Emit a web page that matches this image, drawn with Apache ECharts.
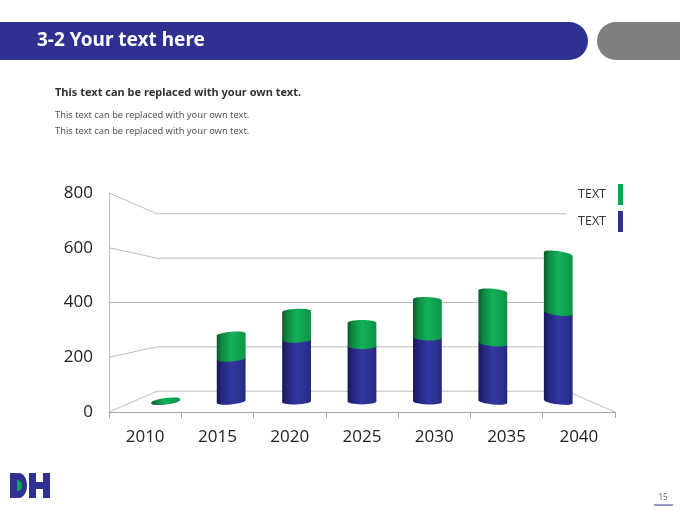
<!DOCTYPE html>
<html>
<head>
<meta charset="utf-8">
<title>3-2 Your text here</title>
<script src="https://cdn.jsdelivr.net/npm/echarts@6.0.0/dist/echarts.min.js"></script>
<style>
    html, body { margin: 0; padding: 0; background: #fff; }
    #slide_chart { width: 680px; height: 510px; }
</style>
</head>
<body>
<div id="slide_chart"></div>
<script>

// Chart data
// ------------------------------

var years = ['2010', '2015', '2020', '2025', '2030', '2035', '2040'];
var lowerValues = [0, 173, 249, 223, 258, 235, 359];
var upperValues = [3, 98, 114, 95, 153, 209, 237];
var yTicks = [0, 200, 400, 600, 800];
var seriesNames = ['Upper', 'Lower'];
var legendLabels = ['TEXT', 'TEXT'];


// Setup module
// ------------------------------

var SlideCylinderChart = function() {

    // 3D look settings
    var eyeValue = 400;      // value where the walls look level
    var backDepth = 0.81;    // scale of the back wall
    var barDepth = 0.905;    // scale of the plane the cylinders stand on
    var barRatio = 0.44;     // cylinder width / category width
    var capRy = 2.8;         // ellipse height of cylinder ends
    var tiltK = 0.0007;      // tilt of ends away from the centre

    var blueStops = [
        { offset: 0, color: '#15165a' },
        { offset: 0.18, color: '#24277c' },
        { offset: 0.5, color: '#3236a0' },
        { offset: 0.8, color: '#2d3192' },
        { offset: 1, color: '#25287f' }
    ];
    var greenStops = [
        { offset: 0, color: '#0a5a2c' },
        { offset: 0.18, color: '#0d8a42' },
        { offset: 0.5, color: '#13b05a' },
        { offset: 0.8, color: '#0fa04e' },
        { offset: 1, color: '#0c9446' }
    ];

    // Vanishing point: middle of the grid, at eye level
    var vanish = function(api) {
        var l = api.coord([0, eyeValue]);
        var r = api.coord([years.length - 1, eyeValue]);
        return [(l[0] + r[0]) / 2, l[1]];
    };

    var project = function(p, vp, s) {
        return [vp[0] + (p[0] - vp[0]) * s, vp[1] + (p[1] - vp[1]) * s];
    };

    // Walls and floor drawn from the value axis ticks
    var renderWall = function(params, api) {
        var v = api.value(1);
        var half = api.size([1, 0])[0] / 2;
        var vp = vanish(api);
        var fl = [api.coord([0, v])[0] - half, api.coord([0, v])[1]];
        var fr = [api.coord([years.length - 1, v])[0] + half, fl[1]];
        var bl = project(fl, vp, backDepth);
        var br = project(fr, vp, backDepth);
        var lineStyle = { stroke: '#bdbdbd', lineWidth: 1, fill: null };
        var children = [{
            type: 'polyline',
            shape: { points: [fl, bl, br] },
            style: lineStyle
        }];
        if (v === yTicks[0]) {
            children.push({
                type: 'line',
                shape: { x1: br[0], y1: br[1], x2: fr[0], y2: fr[1] },
                style: lineStyle
            });
        }
        return { type: 'group', children: children };
    };

    // One piece of a stacked cylinder
    var cylinderPiece = function(api, stops, topCap) {
        var i = api.value(0);
        var vp = vanish(api);
        var b = project(api.coord([i, api.value(1)]), vp, barDepth);
        var t = project(api.coord([i, api.value(2)]), vp, barDepth);
        var w = api.size([1, 0])[0] * barRatio / 2 * barDepth;
        var slope = (b[0] - vp[0]) * tiltK;
        var rot = -Math.atan(slope);
        var fill = new echarts.graphic.LinearGradient(0, 0, 1, 0, stops);

        var children = [
            {
                type: 'ellipse',
                shape: { cx: 0, cy: 0, rx: w, ry: capRy },
                x: b[0], y: b[1], rotation: rot,
                style: { fill: fill }
            },
            {
                type: 'polygon',
                shape: {
                    points: [
                        [b[0] - w, t[1] - slope * w],
                        [b[0] + w, t[1] + slope * w],
                        [b[0] + w, b[1] + slope * w],
                        [b[0] - w, b[1] - slope * w]
                    ]
                },
                style: { fill: fill }
            }
        ];
        if (topCap) {
            children.push({
                type: 'ellipse',
                shape: { cx: 0, cy: 0, rx: w, ry: capRy },
                x: t[0], y: t[1], rotation: rot,
                style: { fill: fill }
            });
        }
        return { type: 'group', children: children };
    };

    var _slideChart = function() {
        if (typeof echarts == 'undefined') {
            console.warn('Warning - echarts.min.js is not loaded.');
            return;
        }

        var chart_element = document.getElementById('slide_chart');
        if (!chart_element) return;

        var chart = echarts.init(chart_element, null, { renderer: 'canvas' });

        var lowerData = years.map(function(y, i) { return [i, 0, lowerValues[i]]; });
        var upperData = years.map(function(y, i) { return [i, lowerValues[i], lowerValues[i] + upperValues[i]]; });
        var wallData = yTicks.map(function(v) { return [0, v]; });

        chart.setOption({
            animation: false,
            textStyle: {
                fontFamily: '"Open Sans", "Noto Sans", sans-serif'
            },

            // Slide decoration
            graphic: [
                {
                    type: 'rect',
                    shape: { x: -20, y: 22, width: 608, height: 38, r: [0, 19, 19, 0] },
                    style: { fill: '#2e3192' }
                },
                {
                    type: 'rect',
                    shape: { x: 597, y: 22, width: 100, height: 38, r: [19, 0, 0, 19] },
                    style: { fill: '#7f7f7f' }
                },
                {
                    type: 'text',
                    x: 37, y: 41,
                    style: {
                        text: '3-2 Your text here',
                        fill: '#fff',
                        font: 'bold 19px "Noto Sans", sans-serif',
                        verticalAlign: 'middle'
                    }
                },
                {
                    type: 'text',
                    x: 55, y: 93,
                    style: {
                        text: 'This text can be replaced with your own text.',
                        fill: '#333',
                        font: 'bold 11px "Noto Sans", sans-serif',
                        verticalAlign: 'middle'
                    }
                },
                {
                    type: 'text',
                    x: 55, y: 115,
                    style: {
                        text: 'This text can be replaced with your own text.',
                        fill: '#555',
                        font: '9.3px "Noto Sans", sans-serif',
                        verticalAlign: 'middle'
                    }
                },
                {
                    type: 'text',
                    x: 55, y: 131,
                    style: {
                        text: 'This text can be replaced with your own text.',
                        fill: '#555',
                        font: '9.3px "Noto Sans", sans-serif',
                        verticalAlign: 'middle'
                    }
                },
                // DH logo
                {
                    type: 'ellipse',
                    shape: { cx: 19, cy: 485.5, rx: 8, ry: 12.5 },
                    style: { fill: '#2e3192' }
                },
                {
                    type: 'ellipse',
                    shape: { cx: 17, cy: 485.5, rx: 5, ry: 5.5 },
                    style: { fill: '#00a651' }
                },
                {
                    type: 'rect',
                    shape: { x: 10, y: 473, width: 7, height: 25 },
                    style: { fill: '#2e3192' }
                },
                {
                    type: 'polygon',
                    shape: {
                        points: [[29, 473], [36, 473], [36, 482], [43, 482], [43, 473], [50, 473],
                            [50, 498], [43, 498], [43, 489], [36, 489], [36, 498], [29, 498]]
                    },
                    style: { fill: '#2e3192' }
                },
                // Page number
                {
                    type: 'text',
                    x: 663, y: 498,
                    style: {
                        text: '15',
                        fill: '#666',
                        font: '8px "Noto Sans", sans-serif',
                        align: 'center',
                        verticalAlign: 'middle'
                    }
                },
                {
                    type: 'line',
                    shape: { x1: 654, y1: 505, x2: 673, y2: 505 },
                    style: { stroke: '#2e3192', lineWidth: 1 }
                }
            ],

            grid: {
                left: 109,
                right: 65,
                top: 193,
                bottom: 98
            },

            legend: {
                data: [seriesNames[0], seriesNames[1]],
                orient: 'vertical',
                right: 52,
                top: 179,
                align: 'right',
                icon: 'rect',
                itemWidth: 5,
                itemHeight: 21,
                itemGap: 6,
                selectedMode: false,
                formatter: function(name) {
                    return legendLabels[seriesNames.indexOf(name)];
                },
                textStyle: {
                    fontSize: 12.5,
                    color: '#333',
                    padding: [0, 7, 0, 0]
                }
            },

            xAxis: {
                type: 'category',
                data: years,
                boundaryGap: true,
                axisLine: { lineStyle: { color: '#a6a6a6' } },
                axisTick: { show: true, length: 6, lineStyle: { color: '#a6a6a6' } },
                axisLabel: { fontSize: 17, color: '#222', margin: 17 },
                splitLine: { show: false }
            },

            yAxis: {
                type: 'value',
                min: yTicks[0],
                max: yTicks[yTicks.length - 1],
                interval: yTicks[1] - yTicks[0],
                axisLine: { show: true, lineStyle: { color: '#bdbdbd' } },
                axisTick: { show: false },
                axisLabel: { fontSize: 17, color: '#222', margin: 16 },
                splitLine: { show: false }
            },

            series: [
                {
                    name: 'walls',
                    type: 'custom',
                    silent: true,
                    z: 1,
                    renderItem: renderWall,
                    encode: { x: 0, y: 1 },
                    data: wallData
                },
                {
                    name: seriesNames[1],
                    type: 'custom',
                    z: 2,
                    itemStyle: { color: '#2e3192' },
                    renderItem: function(params, api) {
                        return cylinderPiece(api, blueStops, false);
                    },
                    encode: { x: 0, y: [1, 2] },
                    data: lowerData
                },
                {
                    name: seriesNames[0],
                    type: 'custom',
                    z: 3,
                    itemStyle: { color: '#00a651' },
                    renderItem: function(params, api) {
                        return cylinderPiece(api, greenStops, true);
                    },
                    encode: { x: 0, y: [1, 2] },
                    data: upperData
                }
            ]
        });
    };

    return {
        init: function() {
            _slideChart();
        }
    };
}();


// Initialize module
// ------------------------------

document.addEventListener('DOMContentLoaded', function() {
    SlideCylinderChart.init();
});
</script>
</body>
</html>
